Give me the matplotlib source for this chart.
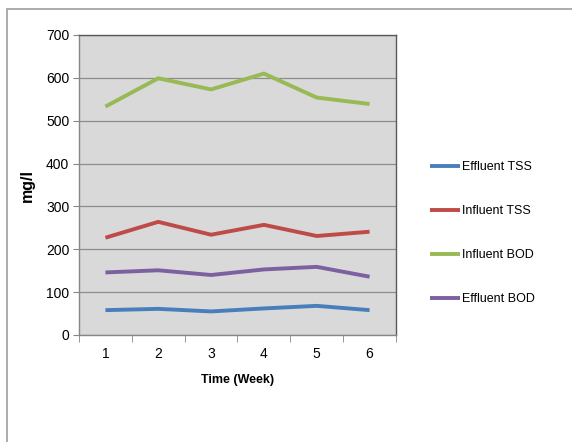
import matplotlib
matplotlib.use("Agg")
import matplotlib.pyplot as plt
from matplotlib.patches import Rectangle

weeks = [1, 2, 3, 4, 5, 6]
effluent_tss = [58, 61, 55, 62, 68, 58]
influent_tss = [227, 264, 234, 257, 231, 241]
influent_bod = [533, 599, 573, 610, 554, 539]
effluent_bod = [146, 151, 140, 153, 159, 136]
series_names = ["Effluent TSS", "Influent TSS", "Influent BOD", "Effluent BOD"]
colors = ["#4A7EBB", "#BE4B48", "#98B954", "#7D60A0"]

plt.rcParams['font.family'] = ['Liberation Sans', 'DejaVu Sans']

fig = plt.figure(figsize=(5.72, 4.42), dpi=100)
W, H = 572, 442
ax = fig.add_axes([79 / W, 1 - 335 / H, (396 - 79) / W, (335 - 35) / H])
ax.set_facecolor("#D9D9D9")

for vals, name, c in zip([effluent_tss, influent_tss, influent_bod, effluent_bod], series_names, colors):
    ax.plot(weeks, vals, color=c, lw=2.8, label=name, solid_capstyle='butt')

ax.set_xlim(0.5, 6.5)
ax.set_ylim(0, 700)
ax.set_yticks(range(0, 701, 100))
ax.set_xticks(weeks)
ax.set_xticks([0.5 + i for i in range(7)], minor=True)
ax.tick_params(axis='x', which='major', length=0, pad=9, labelsize=10)
ax.tick_params(axis='x', which='minor', length=5, direction='out', color='#868686')
ax.tick_params(axis='y', length=4, direction='out', color='#868686', labelsize=10, pad=3)
ax.grid(axis='y', color='#8C8C8C', lw=0.9)
ax.set_axisbelow(True)
for s in ['top', 'right']:
    ax.spines[s].set_color('#595959')
    ax.spines[s].set_linewidth(1.0)
for s in ['left', 'bottom']:
    ax.spines[s].set_color('#868686')
    ax.spines[s].set_linewidth(1.0)

ax.set_ylabel("mg/l", fontweight='bold', fontsize=11.5, labelpad=8)
ax.set_xlabel("Time (Week)", fontweight='bold', fontsize=9, labelpad=9)

leg = ax.legend(loc='upper left', bbox_to_anchor=(419 / W, 1 - 150 / H), bbox_transform=fig.transFigure,
                frameon=False, fontsize=9, handlelength=2.4, handletextpad=0.15, labelspacing=2.55)

fig.add_artist(Rectangle((7 / W, -0.1), 1.2, 1 - 9 / H + 0.1, transform=fig.transFigure,
                         fill=False, edgecolor='#A6A6A6', lw=1.3))

fig.savefig("out.png", dpi=100)
